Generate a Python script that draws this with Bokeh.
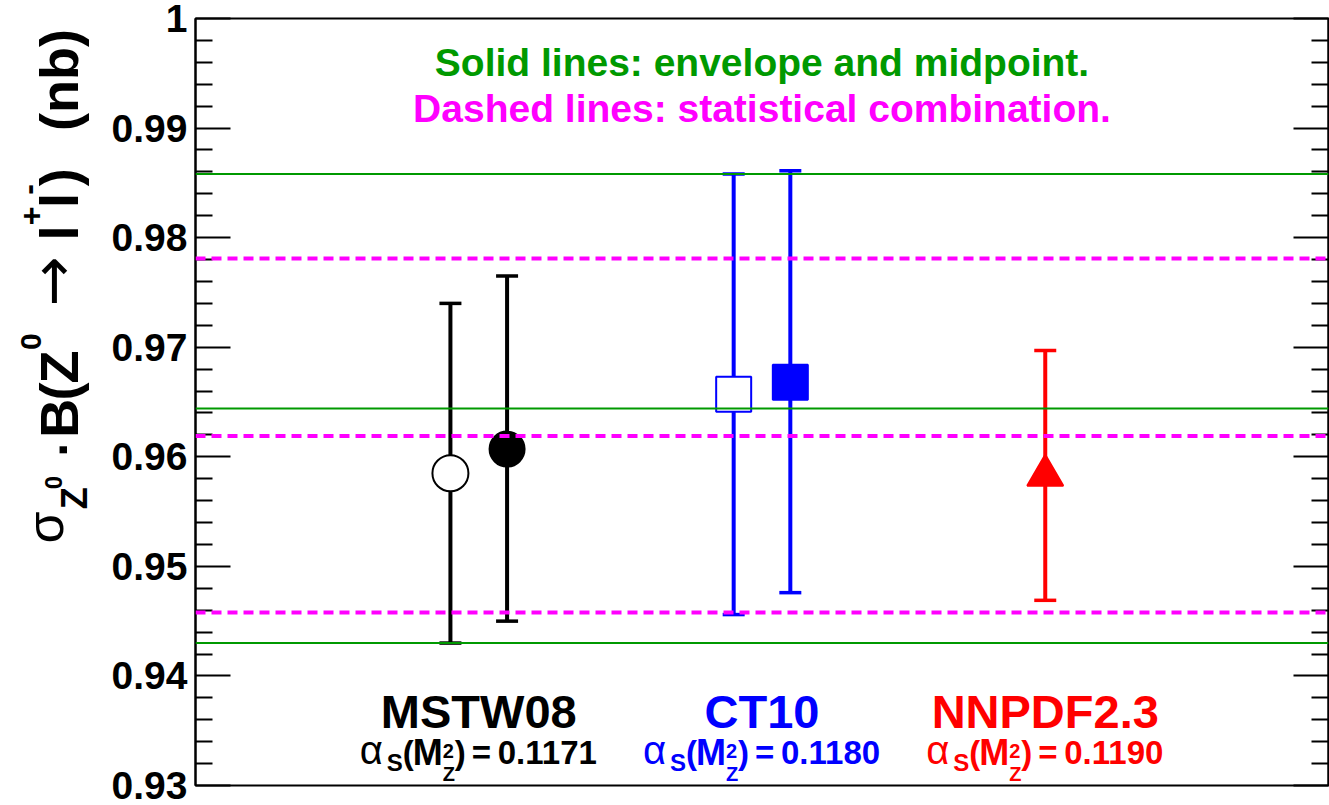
import math
from bokeh.plotting import figure
from bokeh.layouts import row
from bokeh.models import ColumnDataSource, Whisker, TeeHead, Span, LinearAxis, FixedTicker
from bokeh.core.properties import value
from bokeh.embed import file_html
from bokeh.resources import INLINE

# ---------------- data ----------------
pdf_sets = ["MSTW08", "CT10", "NNPDF2.3"]
pdf_colors = ["#000000", "#0000ff", "#ff0000"]
alphas_values = ["0.1171", "0.1180", "0.1190"]
category_x = [1, 2, 3]

point_x = [0.9, 1.1, 1.9, 2.1, 3.0]
point_y = [0.9585, 0.9607, 0.9657, 0.9668, 0.9583]
point_hi = [0.9740, 0.9765, 0.9858, 0.9861, 0.9697]
point_lo = [0.9430, 0.9450, 0.9456, 0.9476, 0.9469]
point_marker = ["circle", "circle", "square", "square", "triangle"]
point_line = ["#000000", "#000000", "#0000ff", "#0000ff", "#ff0000"]
point_fill = ["#ffffff", "#000000", "#ffffff", "#0000ff", "#ff0000"]

envelope_lines = [0.9858, 0.9644, 0.9430]      # solid green
statistical_lines = [0.9781, 0.9619, 0.9458]   # dashed magenta

y_ticks = [0.93, 0.94, 0.95, 0.96, 0.97, 0.98, 0.99, 1.0]
y_tick_labels = ["0.93", "0.94", "0.95", "0.96", "0.97", "0.98", "0.99", "1"]
y_minor_ticks = [0.932, 0.934, 0.936, 0.938, 0.942, 0.944, 0.946, 0.948,
                 0.952, 0.954, 0.956, 0.958, 0.962, 0.964, 0.966, 0.968,
                 0.972, 0.974, 0.976, 0.978, 0.982, 0.984, 0.986, 0.988,
                 0.992, 0.994, 0.996, 0.998]

note_solid = "Solid lines: envelope and midpoint."
note_dashed = "Dashed lines: statistical combination."

FONT = value("Liberation Sans")
GREEN = "#009900"
MAGENTA = "#ff00ff"

W, H = 1329, 805
TW = 100  # width of the strip that holds the rotated y-axis title

# ---------------- main figure ----------------
p = figure(width=W - TW, height=H, x_range=(0, 4), y_range=(0.93, 1.0),
           output_backend="svg", toolbar_location=None,
           min_border_left=195 - TW, min_border_right=1, min_border_top=18, min_border_bottom=20)
p.xgrid.visible = False
p.ygrid.visible = False
p.xaxis.visible = False
p.outline_line_color = "black"
p.outline_line_width = 2

ax = p.yaxis[0]
ax.ticker = FixedTicker(ticks=y_ticks, minor_ticks=y_minor_ticks)
ax.major_label_overrides = {t: l for t, l in zip(y_ticks, y_tick_labels)}
ax.major_label_text_font = "Liberation Sans"
ax.major_label_text_font_style = "bold"
ax.major_label_text_font_size = "39px"
ax.major_label_text_color = "black"
ax.major_label_standoff = 8
ax.major_tick_in = 35
ax.major_tick_out = 0
ax.minor_tick_in = 17
ax.minor_tick_out = 0
ax.major_tick_line_width = 2
ax.minor_tick_line_width = 2
ax.axis_line_width = 2

rax = LinearAxis(ticker=FixedTicker(ticks=y_ticks, minor_ticks=y_minor_ticks),
                 major_label_overrides={t: "" for t in y_ticks}, major_label_standoff=0,
                 major_tick_in=35, major_tick_out=0, minor_tick_in=17, minor_tick_out=0,
                 major_tick_line_width=2, minor_tick_line_width=2, axis_line_width=2)
p.add_layout(rax, "right")

# error bars (below markers)
for i in range(len(point_x)):
    src = ColumnDataSource(dict(x=[point_x[i]], hi=[point_hi[i]], lo=[point_lo[i]]))
    c = point_line[i]
    w = Whisker(base="x", upper="hi", lower="lo", dimension="height", source=src,
                line_color=c, line_width=4, level="underlay",
                upper_head=TeeHead(size=22, line_width=3.5, line_color=c),
                lower_head=TeeHead(size=22, line_width=3.5, line_color=c))
    p.add_layout(w)

pts = ColumnDataSource(dict(x=point_x, y=point_y, marker=point_marker,
                            lc=point_line, fc=point_fill,
                            size=[36, 35, 35, 35, 36]))
p.scatter(x="x", y="y", marker="marker", size="size", source=pts,
          line_color="lc", fill_color="fc", line_width=2)

# horizontal reference lines (drawn above markers)
for v in envelope_lines:
    p.add_layout(Span(location=v, dimension="width", line_color=GREEN, line_width=2))
for v in statistical_lines:
    p.add_layout(Span(location=v, dimension="width", line_color=MAGENTA, line_width=4,
                      line_dash="10 6"))

# notes
p.text(x=[2], y=[0.99596], text=[note_solid], text_font=FONT, text_font_style="bold",
       text_font_size="39px", text_color=GREEN, text_align="center", text_baseline="middle")
p.text(x=[2], y=[0.99176], text=[note_dashed], text_font=FONT, text_font_style="bold",
       text_font_size="39px", text_color=MAGENTA, text_align="center", text_baseline="middle")

# category labels
cat = ColumnDataSource(dict(x=category_x, name=pdf_sets, c=pdf_colors, val=alphas_values))
p.text(x="x", y=0.93677, text="name", source=cat, text_color="c", text_font=FONT,
       text_font_style="bold", text_font_size="47px", text_align="center",
       text_baseline="middle")

# alpha_s(M_Z^2) = value lines, composed of pieces
ALPHA_Y = 0.93298
pieces = [
    # text, font size, style, x offset, y offset (px, + = down)
    ("\u03b1", "40px", "normal", -119, -3),
    ("S", "24px", "bold", -92, 10),
    ("(", "33px", "bold", -76, 0),
    ("M", "36px", "bold", -66, 0),
    ("2", "20px", "bold", -36, -2),
    ("Z", "20px", "bold", -36, 21),
    (")", "33px", "bold", -24, 0),
    ("=", "33px", "bold", -7, 0),
]
for txt, fs, st, dx, dy in pieces:
    p.text(x="x", y=ALPHA_Y, text=value(txt), source=cat, text_color="c", text_font=FONT,
           text_font_style=st, text_font_size=fs, text_align="left",
           text_baseline="middle", x_offset=dx, y_offset=dy)
p.text(x="x", y=ALPHA_Y, text="val", source=cat, text_color="c", text_font=FONT,
       text_font_style="bold", text_font_size="33px", text_align="left",
       text_baseline="middle", x_offset=19)

# ---------------- rotated y-axis title strip ----------------
tf = figure(width=TW, height=H, x_range=(0, TW), y_range=(0, H),
            output_backend="svg", toolbar_location=None,
            x_axis_location=None, y_axis_location=None,
            min_border=0, min_border_left=0, min_border_right=0,
            min_border_top=0, min_border_bottom=0)
tf.outline_line_color = None
tf.xgrid.visible = False
tf.ygrid.visible = False

MAINC = 58
title_pieces = [
    # text, font, size, style, cross-centre x, start y (both in page pixels)
    ("\u03c3", "Liberation Sans", 52, "normal", 44, 551),
    ("Z", "Liberation Sans", 36, "bold", 74, 515),
    ("0", "Liberation Sans", 24, "bold", 53, 494),
    ("\u00b7", "Liberation Sans", 50, "bold", 62, 460),
    ("B", "Liberation Sans", 54, "bold", MAINC, 440),
    ("(", "Liberation Sans", 54, "bold", MAINC, 401),
    ("Z", "Liberation Sans", 54, "bold", MAINC, 383),
    ("0", "Liberation Sans", 30, "bold", 30, 348),
    ("\u2192", "DejaVu Sans", 60, "normal", 51, 302),
    ("l", "Liberation Sans", 54, "bold", MAINC, 233),
    ("+", "Liberation Sans", 32, "bold", 30, 217),
    ("l", "Liberation Sans", 54, "bold", MAINC, 199),
    ("-", "Liberation Sans", 32, "bold", 27, 185),
    (")", "Liberation Sans", 54, "bold", MAINC, 176),
    ("(nb)", "Liberation Sans", 54, "bold", MAINC, 118),
]
for txt, fnt, fs, st, cx, sy in title_pieces:
    tf.text(x=[cx], y=[H - sy], text=[txt], angle=math.pi / 2, text_font=value(fnt),
            text_font_style=st, text_font_size=f"{fs}px", text_color="black",
            text_align="left", text_baseline="middle")

layout = row(tf, p, spacing=0)
open("out.html", "w").write(file_html(layout, INLINE))
